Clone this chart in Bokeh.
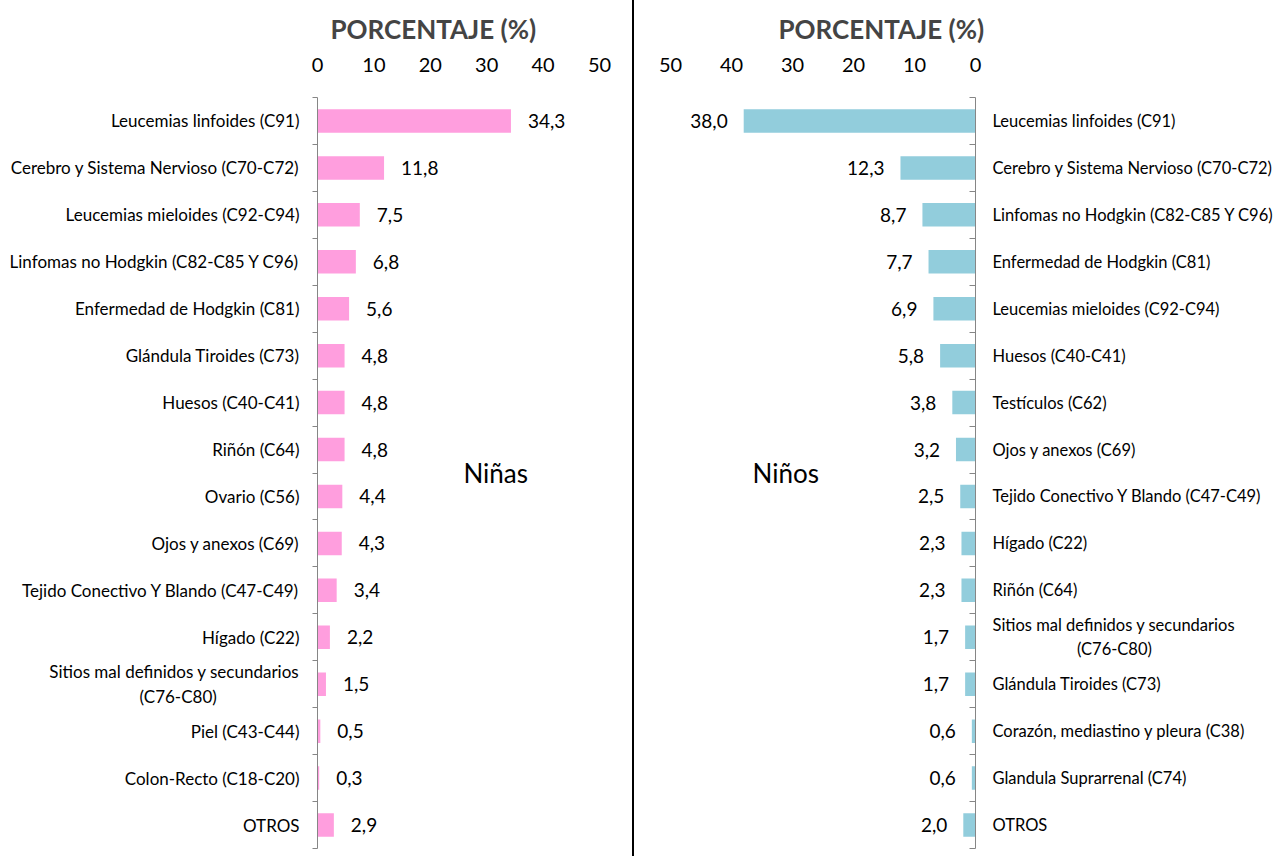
from bokeh.plotting import figure
from bokeh.models import Range1d, FixedTicker, Label, Div, ColumnDataSource, LabelSet
from bokeh.layouts import row
from bokeh.embed import file_html
from bokeh.resources import INLINE
from bokeh.core.properties import value

girls_cats = ["Leucemias linfoides (C91)", "Cerebro y Sistema Nervioso (C70-C72)",
              "Leucemias mieloides (C92-C94)", "Linfomas no Hodgkin (C82-C85 Y C96)",
              "Enfermedad de Hodgkin (C81)", "Glándula Tiroides (C73)", "Huesos (C40-C41)",
              "Riñón (C64)", "Ovario (C56)", "Ojos y anexos (C69)",
              "Tejido Conectivo Y Blando (C47-C49)", "Hígado (C22)",
              "Sitios mal definidos y secundarios\n(C76-C80)", "Piel (C43-C44)",
              "Colon-Recto (C18-C20)", "OTROS"]
girls_vals = [34.3, 11.8, 7.5, 6.8, 5.6, 4.8, 4.8, 4.8, 4.4, 4.3, 3.4, 2.2, 1.5, 0.5, 0.3, 2.9]

boys_cats = ["Leucemias linfoides (C91)", "Cerebro y Sistema Nervioso (C70-C72)",
             "Linfomas no Hodgkin (C82-C85 Y C96)", "Enfermedad de Hodgkin (C81)",
             "Leucemias mieloides (C92-C94)", "Huesos (C40-C41)", "Testículos (C62)",
             "Ojos y anexos (C69)", "Tejido Conectivo Y Blando (C47-C49)", "Hígado (C22)",
             "Riñón (C64)", "Sitios mal definidos y secundarios\n(C76-C80)",
             "Glándula Tiroides (C73)", "Corazón, mediastino y pleura (C38)",
             "Glandula Suprarrenal (C74)", "OTROS"]
boys_vals = [38.0, 12.3, 8.7, 7.7, 6.9, 5.8, 3.8, 3.2, 2.5, 2.3, 2.3, 1.7, 1.7, 0.6, 0.6, 2.0]

x_ticks = [0, 10, 20, 30, 40, 50]
axis_title = "PORCENTAJE (%)"
girls_name = "Niñas"
boys_name = "Niños"

FONT = "Lato"
PINK = "#FF9EDE"
BLUE = "#92CDDC"
AXIS_GRAY = "#868686"
NBSP = "\u00a0"


def centre_second_line(text, side, pad):
    # second line of a two-line label centred under the first one
    first, second = text.split("\n")
    if side == "left":
        return first + "\n" + second + NBSP * pad
    return first + "\n" + NBSP * pad + second


def make_panel(cats, vals, color, side, title_offset, name, name_x):
    n = len(cats)
    ys = [i + 0.5 for i in range(n)]
    labs = [f"{v:.1f}".replace(".", ",") for v in vals]
    src = ColumnDataSource(dict(y=ys, v=vals, lab=labs))
    if side == "left":
        xr = Range1d(0, 50)
        cat_size = "17px"
        pad = 19
        kw = dict(width=632, min_border_left=317, min_border_right=33, y_axis_location="left",
                  min_border_top=96, min_border_bottom=8)
    else:
        xr = Range1d(50, 0)
        cat_size = "16.5px"
        pad = 20
        kw = dict(width=648, min_border_left=36, min_border_right=307, y_axis_location="right",
                  min_border_top=97, min_border_bottom=0)
    p = figure(height=856, x_range=xr, y_range=Range1d(n, 0), x_axis_location="above",
               output_backend="svg", toolbar_location=None, title=axis_title, **kw)
    p.hbar(y="y", left=0, right="v", height=0.5, source=src, color=color, line_color=None)
    p.add_layout(LabelSet(x="v", y="y", text="lab", source=src,
                          x_offset=17 if side == "left" else -16,
                          text_align="left" if side == "left" else "right",
                          text_baseline="middle", text_font=value(FONT),
                          text_font_size="19px", text_color="#000000"))
    p.add_layout(Label(x=name_x, y=n / 2, text=name, text_font=FONT, text_font_size="26px",
                       text_align="center", text_baseline="middle", text_color="#000000"))

    p.grid.visible = False
    p.outline_line_color = None
    p.background_fill_color = "white"
    p.border_fill_color = "white"

    p.title.text_font = FONT
    p.title.text_font_size = "26px"
    p.title.text_font_style = "bold"
    p.title.align = "left"
    p.title.offset = title_offset
    p.title.standoff = 19

    xa = p.xaxis[0]
    xa.ticker = FixedTicker(ticks=x_ticks)
    xa.axis_line_color = None
    xa.major_tick_line_color = None
    xa.minor_tick_line_color = None
    xa.major_tick_out = 0
    xa.major_label_standoff = 26
    xa.major_label_text_font = FONT
    xa.major_label_text_font_size = "20px"
    xa.major_label_text_color = "#000000"

    overrides = {}
    for y, c in zip(ys, cats):
        overrides[y] = centre_second_line(c, side, pad) if "\n" in c else c

    ya = p.yaxis[0]
    ya.ticker = FixedTicker(ticks=ys, minor_ticks=list(range(n + 1)))
    ya.major_label_overrides = overrides
    ya.axis_line_color = AXIS_GRAY
    ya.major_tick_line_color = None
    ya.minor_tick_line_color = AXIS_GRAY
    ya.major_tick_out = 0
    ya.major_tick_in = 0
    if side == "left":
        ya.minor_tick_out = 5
        ya.minor_tick_in = 0
        ya.major_label_standoff = 13
    else:
        ya.minor_tick_out = 0
        ya.minor_tick_in = 6
        ya.major_label_standoff = 17
    ya.major_label_text_font = FONT
    ya.major_label_text_font_size = cat_size
    ya.major_label_text_color = "#000000"
    return p


p1 = make_panel(girls_cats, girls_vals, PINK, "left", 13, girls_name, 31.6)
p2 = make_panel(boys_cats, boys_vals, BLUE, "right", 108, boys_name, 31.1)
sep = Div(width=2, height=856, margin=0, styles={"background-color": "black"})
layout = row(p1, sep, p2, spacing=0)
open("out.html", "w").write(file_html(layout, INLINE))
